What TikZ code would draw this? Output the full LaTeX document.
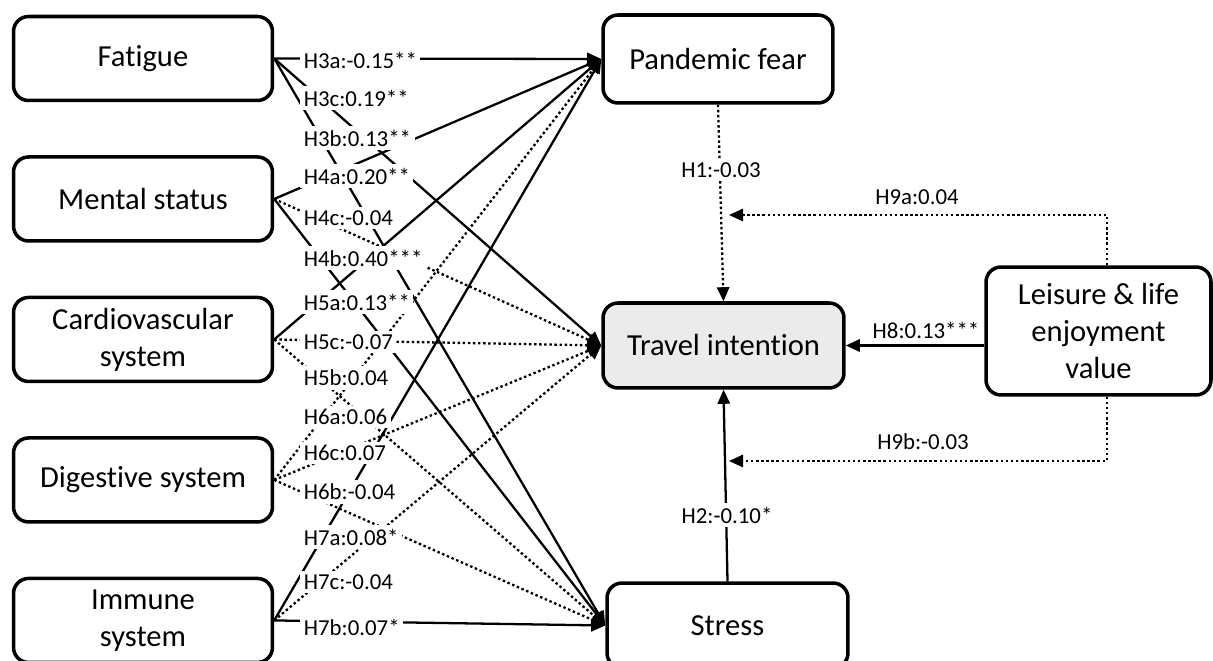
\documentclass[tikz,border=0pt]{standalone}
\usepackage{fontspec}
\setmainfont{Carlito}[Ligatures=NoCommon]
\usetikzlibrary{positioning,arrows.meta}
\definecolor{tigray}{RGB}{235,235,235}

\begin{document}
\begin{tikzpicture}[x=0.02cm,y=-0.02cm,
    node distance=1.06cm,
    box/.style={draw, rounded corners=0.3cm, line width=2pt, align=center,
      minimum width=5.18cm, minimum height=1.68cm, font=\fontsize{17.4}{21}\selectfont},
    coef/.style={fill=white, inner sep=2pt, font=\fontsize{13}{15}\selectfont},
    sig/.style={line width=1.3pt, -{Triangle[length=8pt,width=7pt]}},
    ns/.style={sig, dash pattern=on 1.4pt off 1.5pt}
  ]
  \useasboundingbox (0,0) rectangle (1213,661);
  % predictors
  \node[box] (fa) at (143,58.5) {Fatigue};
  \node[box,below=of fa] (ms) {Mental status};
  \node[box,below=of ms] (cv) {Cardiovascular\\system};
  \node[box,below=of cv] (dg) {Digestive system};
  \node[box,below=of dg] (im) {Immune\\system};
  % mediators and outcome
  \node[box,minimum width=4.6cm,minimum height=1.76cm] (pf) at (718,59) {Pandemic fear};
  \node[box,minimum width=4.82cm,minimum height=1.7cm,fill=tigray] (ti) at (723.5,345.5) {Travel intention};
  \node[box,minimum width=4.82cm,minimum height=1.7cm] (st) at (727.5,625.5) {Stress};
  \node[box,minimum width=4.5cm,minimum height=2.56cm] (lv) at (1098.5,331) {Leisure \& life\\enjoyment\\value};
  \coordinate (h9a) at (729,215);
  \coordinate (h9b) at (729,461);

  % paths
  \draw[sig] (fa.east) -- (pf.west);
  \draw[sig] (fa.east) -- (st.west);
  \draw[sig] (fa.east) -- (ti.west);
  \draw[sig] (ms.east) -- (pf.west);
  \draw[sig] (ms.east) -- (st.west);
  \draw[ns] (ms.east) -- (ti.west);
  \draw[sig] (cv.east) -- (pf.west);
  \draw[ns] (cv.east) -- (st.west);
  \draw[ns] (cv.east) -- (ti.west);
  \draw[ns] (dg.east) -- (pf.west);
  \draw[ns] (dg.east) -- (st.west);
  \draw[ns] (dg.east) -- (ti.west);
  \draw[sig] (im.east) -- (pf.west);
  \draw[sig] (im.east) -- (st.west);
  \draw[ns] (im.east) -- (ti.west);

  \draw[ns] (pf.south) -- (ti.north);
  \draw[sig] (st.north) -- (ti.south);
  \draw[sig] (lv.west |- ti.east) -- (ti.east);
  \draw[ns] ([xshift=0.17cm]lv.north) |- (h9a);
  \draw[ns] ([xshift=0.17cm]lv.south) |- (h9b);

  % coefficients
  \foreach \t/\y [count=\i] in {H3a:-0.15**/60, H3c:0.19**/98, H3b:0.13**/138,
      H4a:0.20**/176, H4c:-0.04/218, H4b:0.40***/258, H5a:0.13**/302,
      H5c:-0.07/342, H5b:0.04/378, H6a:0.06/417, H6c:0.07/453,
      H6b:-0.04/492, H7a:0.08*/537, H7c:-0.04/582, H7b:0.07*/627}
    \node[coef,anchor=west] (c\i) at (300,\y) {\t};
  \node[coef] (c1) at (721,170) {H1:-0.03};
  \node[coef] (c2) at (727,515) {H2:-0.10*};
  \node[coef,fill=none,anchor=south] (c8) at (926,343) {H8:0.13***};
  \node[coef,fill=none] (c9a) at (917,197) {H9a:0.04};
  \node[coef,fill=none] (c9b) at (923,442) {H9b:-0.03};
\end{tikzpicture}
\end{document}
